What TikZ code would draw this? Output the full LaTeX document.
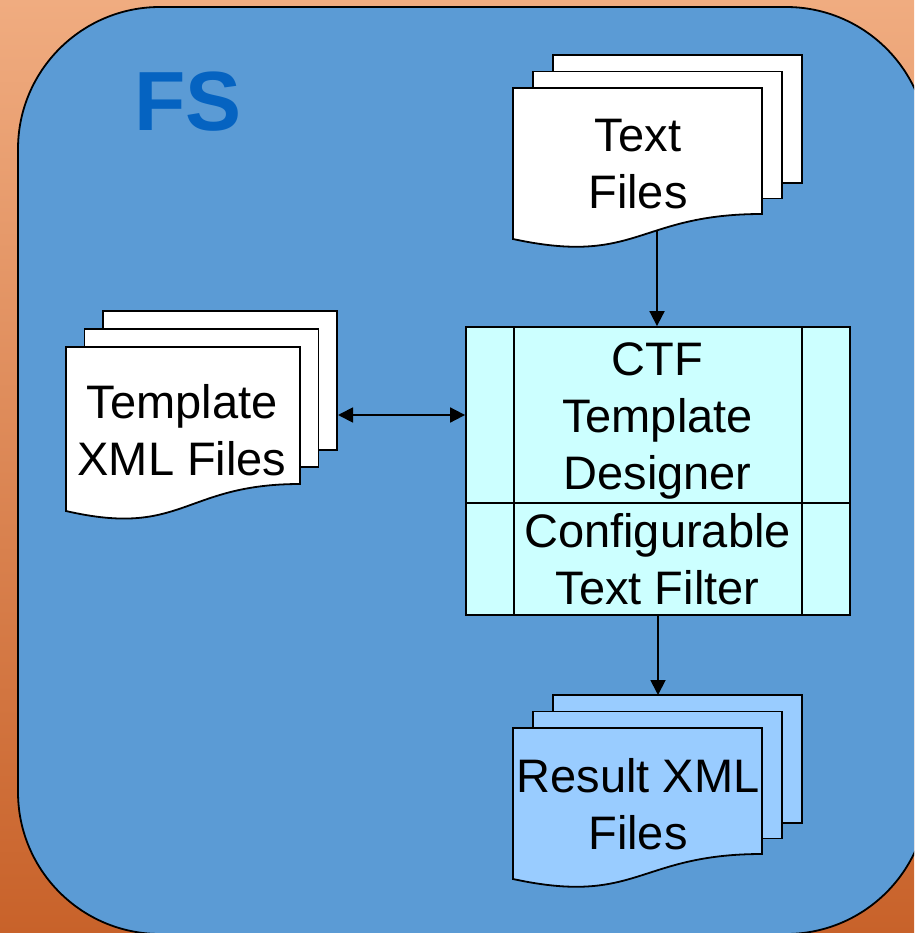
\documentclass[tikz,border=0pt]{standalone}
\usepackage{fontspec}
\setmainfont{Liberation Sans}
\usetikzlibrary{arrows.meta}
\definecolor{bgtop}{RGB}{240,172,128}
\definecolor{bgbot}{RGB}{200,98,42}
\definecolor{panel}{RGB}{91,155,213}
\definecolor{fstext}{RGB}{5,99,193}
\definecolor{procfill}{RGB}{204,255,255}
\definecolor{resfill}{RGB}{153,204,255}
\newcommand\docstack[8]{% #1 fill, #2 L, #3 T, #4 R, #5 yR, #6 left drop, #7 dx, #8 dy
  \draw[border,fill=#1] (#2+2*#7,#3-2*#8) rectangle (#4+2*#7,#5-2*#8+2);
  \draw[border,fill=#1] (#2+#7,#3-#8) rectangle (#4+#7,#5-#8+1);
  \draw[border,fill=#1] (#2,#3) -- (#4,#3) -- (#4,#5)
     .. controls ({(#2+#4)/2},#5) and ({(#2+#4)/2},#5+#6+27) .. (#2,#5+#6) -- cycle;
}
\begin{document}
\begin{tikzpicture}[x=1pt,y=-1pt,line join=miter,
  border/.style={draw=black,line width=1.8pt},
  conn/.style={line width=1.8pt,-{Triangle[length=15pt,width=15pt]}},
  biconn/.style={line width=1.8pt,{Triangle[length=15pt,width=15pt]}-{Triangle[length=15pt,width=15pt]}},
  lbl/.style={font=\fontsize{47}{57}\selectfont,align=center,inner sep=0pt}]
\useasboundingbox (0,0) rectangle (914,933);
\clip (0,0) rectangle (914,933);
% background
\shade[top color=bgtop,bottom color=bgbot] (0,0) rectangle (914,933);
% panel
\draw[border,fill=panel,rounded corners=142pt] (18,7) rectangle (928,934);
\node[anchor=base west,inner sep=0pt,text=fstext,font=\fontsize{84}{90}\selectfont\bfseries] (fs) at (134,131) {FS};
% process box
\node[border,fill=procfill,minimum width=384pt,minimum height=288pt,inner sep=0pt] (ctf) at (658,471) {};
\coordinate (cl) at (514,471);
\coordinate (cr) at (802,471);
\coordinate (cm) at (658,503);
\draw[border] (cl |- ctf.north) -- (cl |- ctf.south);
\draw[border] (cr |- ctf.north) -- (cr |- ctf.south);
\draw[border] (cm -| ctf.west) -- (cm -| ctf.east);
\node[lbl] (designer) at (657.5,420.5) {CTF\\Template\\Designer};
\node[lbl] (filter) at (657.5,559) {Configurable\\Text Filter};
% connectors
\coordinate (tfbot) at (657,228);
\coordinate (tplR) at (338,415);
\coordinate (resTop) at (658,695);
\draw[conn] (tfbot) -- (tfbot |- ctf.north);
\draw[biconn] (tplR) -- (tplR -| ctf.west);
\draw[conn] (ctf.south) -- (resTop);
% document stacks
\docstack{white}{513}{88}{762}{214}{25}{20}{16.5}
\node[lbl] (textfiles) at (638,163.7) {Text\\Files};
\docstack{white}{66}{347}{300}{484}{27}{18.5}{18}
\node[lbl] (tplfiles) at (182,429.7) {Template\\XML Files};
\docstack{resfill}{513}{728}{762}{854}{25}{20}{16.5}
\node[lbl] (resfiles) at (638,804.5) {Result XML\\Files};
\end{tikzpicture}
\end{document}
